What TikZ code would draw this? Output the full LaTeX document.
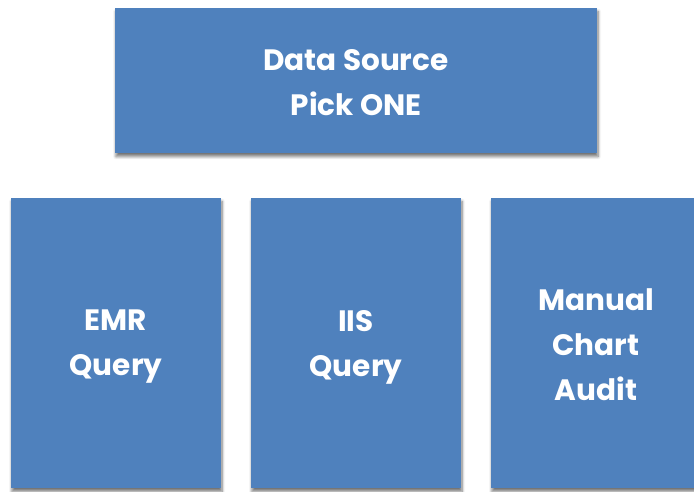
\documentclass[tikz,border=0pt]{standalone}
\usepackage{fontspec}
\setmainfont{Poppins}
\usetikzlibrary{shadows.blur}
\definecolor{boxblue}{RGB}{79,129,189}
\tikzset{
  x=1pt, y=1pt,
  block/.style={fill=boxblue, draw=none,
    blur shadow={shadow xshift=1pt, shadow yshift=-3.5pt, shadow blur steps=6, shadow blur radius=3pt, shadow opacity=55}},
  label/.style={text=white, align=center, font=\bfseries\fontsize{29.5}{45}\selectfont}
}
\begin{document}
\begin{tikzpicture}
\useasboundingbox (0,0) rectangle (694,491);
% top box
\path[block] (115,338) rectangle (597,483);
\node[label] (top) at (356,408) {Data Source\\Pick ONE};
% bottom row
\path[block] (11,3) rectangle (221,293);
\path[block] (251,3) rectangle (461,293);
\path[block] (491,3) rectangle (730,293);
\node[label] (emr) at (116,144) {EMR\\Query};
\node[label] (iis) at (356,144) {IIS\\Query};
\node[label] (man) at (596,146) {Manual\\Chart\\Audit};
\end{tikzpicture}
\end{document}
